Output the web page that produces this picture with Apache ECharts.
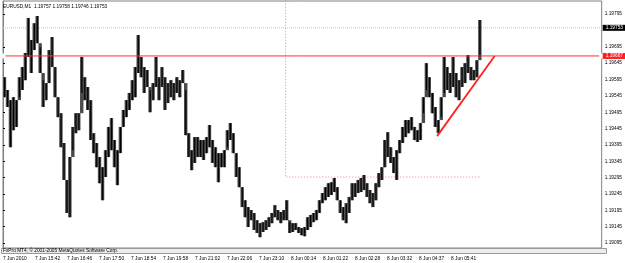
<!DOCTYPE html>
<html><head><meta charset="utf-8">
<script src="https://cdn.jsdelivr.net/npm/echarts@6/dist/echarts.min.js"></script>
<style>html,body{margin:0;padding:0;background:#fff}#c{width:625px;height:263px}</style>
</head><body><div id="c"></div>
<script>
const titleText = 'EURUSD,M1  1.19757 1.19758 1.19746 1.19753';
const copyrightText = 'FxPro MT4, \u00a9 2001-2005 MetaQuotes Software Corp.';
const highs = [1.19602,1.19563,1.19532,1.19541,1.19532,1.19602,1.19633,1.19676,1.19783,1.19716,
1.19767,1.19789,1.19694,1.19593,1.19584,1.19685,1.19725,1.19633,1.19541,1.19492,
1.19401,1.19288,1.19358,1.19450,1.19492,1.19492,1.19664,1.19602,1.19572,1.19532,
1.19431,1.19401,1.19358,1.19327,1.19379,1.19450,1.19477,1.19410,1.19379,1.19450,
1.19502,1.19532,1.19554,1.19593,1.19633,1.19731,1.19664,1.19633,1.19624,1.19563,
1.19584,1.19664,1.19602,1.19633,1.19602,1.19584,1.19593,1.19584,1.19602,1.19593,
1.19624,1.19563,1.19431,1.19379,1.19419,1.19419,1.19410,1.19410,1.19419,1.19456,
1.19410,1.19388,1.19370,1.19370,1.19379,1.19440,1.19462,1.19431,1.19370,1.19327,
1.19266,1.19226,1.19205,1.19196,1.19187,1.19165,1.19156,1.19159,1.19165,1.19174,
1.19187,1.19211,1.19196,1.19190,1.19196,1.19226,1.19159,1.19156,1.19156,1.19144,
1.19141,1.19144,1.19174,1.19181,1.19187,1.19196,1.19226,1.19248,1.19266,1.19278,
1.19281,1.19294,1.19266,1.19226,1.19205,1.19217,1.19236,1.19278,1.19278,1.19288,
1.19294,1.19303,1.19278,1.19257,1.19248,1.19278,1.19309,1.19327,1.19410,1.19434,
1.19388,1.19358,1.19379,1.19410,1.19450,1.19471,1.19471,1.19480,1.19450,1.19440,
1.19462,1.19541,1.19645,1.19602,1.19554,1.19511,1.19471,1.19541,1.19664,1.19633,
1.19615,1.19664,1.19615,1.19593,1.19633,1.19645,1.19670,1.19633,1.19624,1.19654,
1.19777];
const lows = [1.19541,1.19511,1.19388,1.19440,1.19450,1.19541,1.19563,1.19593,1.19664,1.19615,
1.19685,1.19706,1.19615,1.19511,1.19532,1.19584,1.19633,1.19541,1.19480,1.19388,
1.19288,1.19187,1.19174,1.19379,1.19431,1.19440,1.19554,1.19532,1.19502,1.19410,
1.19370,1.19327,1.19278,1.19226,1.19297,1.19358,1.19379,1.19327,1.19272,1.19370,
1.19450,1.19480,1.19502,1.19532,1.19541,1.19615,1.19602,1.19554,1.19572,1.19495,
1.19532,1.19572,1.19532,1.19572,1.19502,1.19523,1.19541,1.19532,1.19554,1.19541,
1.19584,1.19425,1.19358,1.19318,1.19340,1.19358,1.19358,1.19349,1.19370,1.19388,
1.19340,1.19327,1.19281,1.19327,1.19327,1.19388,1.19410,1.19370,1.19297,1.19266,
1.19205,1.19174,1.19144,1.19165,1.19135,1.19126,1.19113,1.19129,1.19135,1.19144,
1.19156,1.19174,1.19165,1.19156,1.19165,1.19165,1.19126,1.19129,1.19135,1.19126,
1.19119,1.19116,1.19135,1.19144,1.19159,1.19165,1.19187,1.19217,1.19226,1.19236,
1.19242,1.19251,1.19226,1.19187,1.19165,1.19156,1.19187,1.19226,1.19236,1.19248,
1.19251,1.19257,1.19236,1.19217,1.19205,1.19226,1.19266,1.19288,1.19327,1.19358,
1.19340,1.19309,1.19288,1.19370,1.19401,1.19419,1.19431,1.19440,1.19410,1.19404,
1.19410,1.19492,1.19563,1.19541,1.19492,1.19450,1.19431,1.19480,1.19554,1.19563,
1.19554,1.19572,1.19541,1.19532,1.19572,1.19584,1.19615,1.19593,1.19593,1.19602,
1.19664];
const timeLabels = ['7 Jun 2010','7 Jun 15:42','7 Jun 16:46','7 Jun 17:50','7 Jun 18:54','7 Jun 19:58',
 '7 Jun 21:02','7 Jun 22:06','7 Jun 23:10','8 Jun 00:14','8 Jun 01:22','8 Jun 02:28','8 Jun 03:32',
 '8 Jun 04:37','8 Jun 05:41'];
const priceTicks = [1.19095,1.19145,1.19195,1.19245,1.19295,1.19345,1.19395,1.19445,1.19495,
 1.19545,1.19595,1.19645,1.19695,1.19795];
const currentPrice = 1.19753;
const resistance = 1.19667;
const trendLine = [[868, 1.19422], [983, 1.19667]];
const zoneLine = [[565, 1.19900], [565, 1.19297], [953, 1.19297]];
const barsPerSample = 5.94;
const yMin = 1.19080, yMax = 1.19835, barMax = 1197, barsPerLabel = 64;

const FS = 4.8;
const FONT = 'Liberation Sans';
const candleData = highs.map((h, i) => [i * barsPerSample + 3, h, lows[i], i > 0 ? highs[i - 1] : h, i > 0 ? lows[i - 1] : lows[i]]);

const chart = echarts.init(document.getElementById('c'), null, {renderer: 'canvas'});
const labelBox = (val, bg) => ({
  show: true, formatter: val.toFixed(5), backgroundColor: bg, color: '#fff',
  fontSize: FS, fontFamily: FONT, padding: [1, 3, 0, 3], distance: 1
});
chart.setOption({
  animation: false,
  backgroundColor: '#fff',
  textStyle: {fontFamily: FONT},
  grid: {left: 2, right: 19, top: 1, bottom: 15, show: true, borderColor: '#808080', borderWidth: 1, backgroundColor: '#fff'},
  xAxis: {
    type: 'value', min: 0, max: barMax, interval: barsPerLabel,
    axisLine: {show: false}, axisTick: {show: false}, splitLine: {show: false},
    axisLabel: {
      fontSize: FS, fontFamily: FONT, color: '#000', align: 'left', margin: 8,
      showMaxLabel: false,
      formatter: v => timeLabels[Math.round(v / barsPerLabel)] || ''
    }
  },
  yAxis: {
    type: 'value', position: 'right', min: yMin, max: yMax,
    axisLine: {show: true, lineStyle: {color: '#808080'}},
    axisTick: {show: true, length: 2, customValues: priceTicks, lineStyle: {color: '#000'}},
    splitLine: {show: false},
    axisLabel: {
      customValues: priceTicks, fontSize: FS, fontFamily: FONT, color: '#000', margin: 3,
      formatter: v => v.toFixed(5)
    }
  },
  series: [
    {
      type: 'line', data: [[0, currentPrice], [barMax, currentPrice]], symbol: 'none', clip: false, z: 1,
      lineStyle: {color: '#c4c4c4', width: 1, type: [1, 1]},
      endLabel: labelBox(currentPrice, '#000')
    },
    {
      type: 'custom', clip: true, z: 3,
      encode: {x: 0, y: [1, 2]},
      data: candleData,
      renderItem(params, api) {
        const x = api.value(0);
        const t = api.coord([x, api.value(1)]);
        const b = api.coord([x, api.value(2)]);
        const pt = api.coord([x, api.value(3)]);
        const pb = api.coord([x, api.value(4)]);
        // extend to touch the previous sample so the price path stays continuous
        const top = Math.min(t[1], pb[1]);
        const bot = Math.max(b[1], pt[1]);
        return {type: 'group', children: [
          {type: 'rect', shape: {x: t[0] - 1.7, y: top, width: 3.4, height: Math.max(1, bot - top)}, style: {fill: '#4a4a4a'}},
          {type: 'rect', shape: {x: t[0] - 0.5, y: t[1], width: 1.2, height: Math.max(1, b[1] - t[1])}, style: {fill: '#000'}}
        ]};
      }
    },
    {
      type: 'line', data: zoneLine, symbol: 'none', clip: true, z: 2,
      lineStyle: {color: '#f08080', width: 1, type: [1, 2]}
    },
    {
      type: 'line', data: [[0, resistance], [barMax, resistance]], symbol: 'emptyRect', symbolSize: 3,
      showSymbol: true, clip: false, z: 4,
      itemStyle: {color: '#fff', borderColor: '#ff3030'},
      lineStyle: {color: '#ff3030', width: 1},
      endLabel: labelBox(resistance, '#ff2020')
    },
    {
      type: 'line', data: trendLine, symbol: 'none', clip: false, z: 5,
      lineStyle: {color: '#ff2020', width: 1.8}
    }
  ],
  graphic: [
    {type: 'rect', left: 1, top: 248, shape: {width: 605, height: 5}, style: {fill: '#ececec', stroke: '#9a9a9a', lineWidth: 1}, z: 10},
    {type: 'text', left: 3, top: 248, style: {text: copyrightText, fontSize: FS, fontFamily: FONT, fill: '#000'}, z: 11},
    {type: 'text', left: 3, top: 4, style: {text: titleText, fontSize: FS, fontFamily: FONT, fill: '#000'}, z: 11}
  ]
});
</script></body></html>
